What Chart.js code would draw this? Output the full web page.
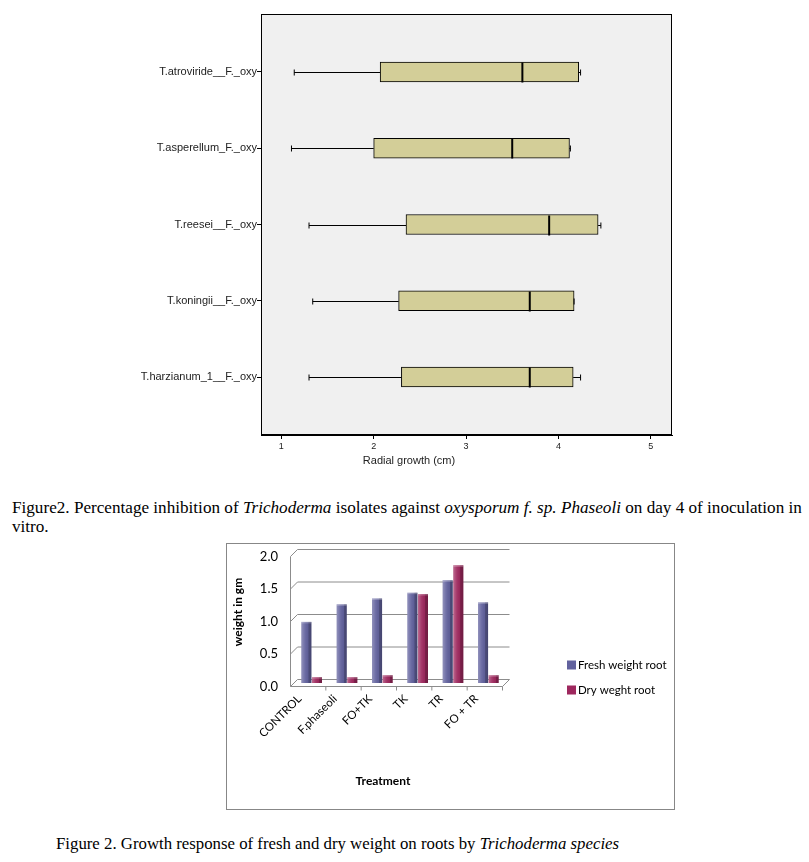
<!DOCTYPE html>
<html>
<head>
<meta charset="utf-8">
<script src="https://cdn.jsdelivr.net/npm/chart.js@4.4.0/dist/chart.umd.min.js"></script>
<style>
    body { margin: 0; background: #fff; width: 809px; height: 862px; position: relative; overflow: hidden; }
    #wrap1 { position: absolute; left: 0; top: 0; width: 809px; height: 472px; }
    #frame2 { position: absolute; left: 226px; top: 543px; width: 449px; height: 267px; box-sizing: border-box; border: 1px solid #878787; }
    #wrap2 { position: absolute; left: 0; top: 0; width: 447px; height: 265px; }
    .cap { position: absolute; font-family: 'Liberation Serif', 'Times New Roman', serif; font-size: 17px; color: #000; white-space: nowrap; line-height: 19px; }
</style>
</head>
<body>
<div id="wrap1"><canvas id="boxChart"></canvas></div>
<div class="cap" style="left:12px; top:498px; font-size:17.15px;">Figure2. Percentage inhibition of <i>Trichoderma</i> isolates against <i>oxysporum f. sp. Phaseoli</i> on day 4 of inoculation in<br>vitro.</div>
<div id="frame2"><div id="wrap2"><canvas id="weightChart"></canvas></div></div>
<div class="cap" style="left:56px; top:834px; font-size:16.8px;">Figure 2. Growth response of fresh and dry weight on roots by <i>Trichoderma species</i></div>
<script>
// Box plot data (radial growth, cm)
const isolates = ['T.atroviride__F._oxy', 'T.asperellum_F._oxy', 'T.reesei__F._oxy', 'T.koningii__F._oxy', 'T.harzianum_1__F._oxy'];
const growthMin = [1.14, 1.11, 1.30, 1.34, 1.30];
const growthQ1 = [2.07, 2.00, 2.35, 2.27, 2.30];
const growthMedian = [3.61, 3.50, 3.90, 3.69, 3.69];
const growthQ3 = [4.22, 4.12, 4.43, 4.17, 4.16];
const growthMax = [4.24, 4.13, 4.46, 4.17, 4.24];
const radialTicks = [1, 2, 3, 4, 5];

// Root weight data (gm)
const treatments = ['CONTROL', 'F.phaseoli', 'FO+TK', 'TK', 'TR', 'FO + TR'];
const freshWeightRoot = [0.94, 1.21, 1.30, 1.39, 1.58, 1.24];
const dryWeightRoot = [0.09, 0.09, 0.12, 1.37, 1.81, 0.12];
const weightTicks = [0, 0.5, 1.0, 1.5, 2.0];

Chart.defaults.animation = false;

// ---------- Box plot ----------
const boxPlugin = {
    id: 'boxParts',
    beforeDraw(chart) {
        const { ctx, chartArea: a } = chart;
        ctx.save();
        ctx.fillStyle = '#f0f0f0';
        ctx.fillRect(a.left, a.top, a.right - a.left, a.bottom - a.top);
        ctx.restore();
    },
    afterDatasetsDraw(chart) {
        const { ctx, chartArea: a } = chart;
        const xs = chart.scales.x, ys = chart.scales.y;
        ctx.save();
        ctx.strokeStyle = '#000';
        isolates.forEach((_, i) => {
            const y = Math.round(ys.getPixelForValue(i)) + 0.5;
            const xMin = xs.getPixelForValue(growthMin[i]);
            const xQ1 = xs.getPixelForValue(growthQ1[i]);
            const xQ3 = xs.getPixelForValue(growthQ3[i]);
            const xMax = xs.getPixelForValue(growthMax[i]);
            const xMed = xs.getPixelForValue(growthMedian[i]);
            ctx.lineWidth = 1;
            ctx.beginPath();
            ctx.moveTo(xMin, y); ctx.lineTo(xQ1, y);
            ctx.moveTo(xQ3, y); ctx.lineTo(xMax, y);
            ctx.moveTo(xMin, y - 3); ctx.lineTo(xMin, y + 3);
            ctx.moveTo(xMax, y - 3); ctx.lineTo(xMax, y + 3);
            ctx.stroke();
            ctx.lineWidth = 2;
            ctx.beginPath();
            ctx.moveTo(xMed, y - 10); ctx.lineTo(xMed, y + 10);
            ctx.stroke();
        });
        ctx.lineWidth = 1;
        ctx.strokeRect(a.left + 0.5, a.top + 0.5, a.right - a.left - 1, a.bottom - a.top - 1);
        // axis title
        ctx.fillStyle = '#222';
        ctx.font = '11px "Liberation Sans", Arial, sans-serif';
        ctx.textAlign = 'center';
        ctx.textBaseline = 'middle';
        ctx.fillText('Radial growth (cm)', 409, 461);
        ctx.restore();
    }
};

new Chart(document.getElementById('boxChart'), {
    type: 'bar',
    data: {
        datasets: [{
            label: 'Radial growth',
            data: isolates.map((_, i) => ({ y: i, x: [growthQ1[i], growthQ3[i]] })),
            backgroundColor: '#d3ce98',
            borderColor: '#000',
            borderWidth: 1,
            borderSkipped: false,
            barThickness: 20
        }]
    },
    options: {
        indexAxis: 'y',
        responsive: true,
        maintainAspectRatio: false,
        layout: { padding: { top: 14, right: 137, left: 0, bottom: 0 } },
        plugins: { legend: { display: false }, tooltip: { enabled: false } },
        scales: {
            x: {
                type: 'linear',
                min: 0.78,
                max: 5.23,
                afterFit(s) { s.height = 37; s.paddingLeft = 0; s.paddingRight = 0; },
                afterBuildTicks(s) { s.ticks = radialTicks.map(v => ({ value: v })); },
                grid: { display: true, drawOnChartArea: false, drawTicks: true, tickLength: 4, color: '#000' },
                border: { display: true, color: '#000' },
                ticks: { color: '#222', padding: 2, font: { family: '"Liberation Sans", Arial, sans-serif', size: 9 } }
            },
            y: {
                type: 'linear',
                reverse: true,
                offset: false,
                min: -0.76,
                max: 4.76,
                afterFit(s) { s.width = 261; s.paddingTop = 0; s.paddingBottom = 0; },
                afterBuildTicks(s) { s.ticks = isolates.map((_, i) => ({ value: i })); },
                grid: { display: true, offset: false, drawOnChartArea: false, drawTicks: true, tickLength: 4, color: '#000' },
                border: { display: true, color: '#000' },
                ticks: {
                    color: '#222',
                    padding: 0,
                    font: { family: '"Liberation Sans", Arial, sans-serif', size: 11 },
                    callback: v => isolates[v]
                }
            }
        }
    },
    plugins: [boxPlugin]
});

// ---------- Root weight bar chart ----------
const DEPTH = 3.5;
const weightPlugin = {
    id: 'pseudo3d',
    beforeDatasetsDraw(chart) {
        const { ctx } = chart;
        const xs = chart.scales.x, ys = chart.scales.y;
        const l = xs.left, r = xs.right, b = ys.bottom, t = ys.top;
        ctx.save();
        ctx.strokeStyle = '#8c8c8c';
        ctx.lineWidth = 1;
        ctx.beginPath();
        weightTicks.forEach(v => {
            const y = ys.getPixelForValue(v);
            ctx.moveTo(l + DEPTH, y - DEPTH); ctx.lineTo(r + DEPTH, y - DEPTH);
            ctx.moveTo(l - DEPTH, y + DEPTH); ctx.lineTo(l + DEPTH, y - DEPTH);
        });
        ctx.moveTo(l - DEPTH, t + DEPTH); ctx.lineTo(l - DEPTH, b + DEPTH);
        ctx.moveTo(l - DEPTH, b + DEPTH); ctx.lineTo(r - DEPTH, b + DEPTH);
        ctx.lineTo(r + DEPTH, b - DEPTH);
        for (let i = 1; i < treatments.length; i++) {
            const x = l + i * (r - l) / treatments.length - DEPTH;
            ctx.moveTo(x, b + DEPTH); ctx.lineTo(x, b + DEPTH + 4);
        }
        ctx.moveTo(r - DEPTH, b + DEPTH); ctx.lineTo(r - DEPTH, b + DEPTH + 4);
        ctx.stroke();
        ctx.restore();
    },
    afterDatasetsDraw(chart) {
        const { ctx } = chart;
        ctx.save();
        chart.data.datasets.forEach((ds, di) => {
            chart.getDatasetMeta(di).data.forEach(bar => {
                const { x, y, base, width } = bar.getProps(['x', 'y', 'base', 'width'], true);
                const left = x - width / 2;
                const g = ctx.createLinearGradient(left, 0, left + width, 0);
                g.addColorStop(0, 'rgba(255,255,255,0.30)');
                g.addColorStop(0.35, 'rgba(255,255,255,0.08)');
                g.addColorStop(0.7, 'rgba(0,0,0,0.05)');
                g.addColorStop(0.72, 'rgba(0,0,0,0.22)');
                g.addColorStop(1, 'rgba(0,0,0,0.30)');
                ctx.fillStyle = g;
                ctx.fillRect(left, y, width, base - y);
                ctx.fillStyle = 'rgba(255,255,255,0.25)';
                ctx.fillRect(left, y, width, 1.5);
            });
        });
        // legend
        ctx.font = '11.5px Lato, "Open Sans", sans-serif';
        ctx.textBaseline = 'middle';
        ctx.textAlign = 'left';
        chart.data.datasets.forEach((ds, di) => {
            const cy = 121 + di * 25;
            ctx.fillStyle = ds.backgroundColor;
            ctx.fillRect(340, cy - 4.5, 9, 9);
            ctx.fillStyle = '#000';
            ctx.fillText(ds.label, 351, cy);
        });
        // axis titles
        ctx.font = 'bold 12px Lato, "Open Sans", sans-serif';
        ctx.textAlign = 'center';
        ctx.fillText('Treatment', 156, 237);
        ctx.translate(11, 68);
        ctx.rotate(-Math.PI / 2);
        ctx.fillText('weight in gm', 0, 0);
        ctx.restore();
    }
};

new Chart(document.getElementById('weightChart'), {
    type: 'bar',
    data: {
        labels: treatments,
        datasets: [
            { label: 'Fresh weight root', data: freshWeightRoot, backgroundColor: '#62629e' },
            { label: 'Dry weght root', data: dryWeightRoot, backgroundColor: '#9e285e' }
        ]
    },
    options: {
        responsive: true,
        maintainAspectRatio: false,
        layout: { padding: { top: 9, right: 168, left: 0, bottom: 0 } },
        datasets: { bar: { categoryPercentage: 0.6, barPercentage: 0.95 } },
        plugins: { legend: { display: false }, tooltip: { enabled: false } },
        scales: {
            x: {
                afterFit(s) { s.height = 126; s.paddingLeft = 0; s.paddingRight = 0; },
                grid: { display: false },
                border: { display: false },
                ticks: {
                    color: '#000',
                    minRotation: 45,
                    maxRotation: 45,
                    padding: 1,
                    labelOffset: -12,
                    font: { family: 'Lato, "Open Sans", sans-serif', size: 11.5 }
                }
            },
            y: {
                min: 0,
                max: 2,
                afterFit(s) { s.width = 67; s.paddingTop = 0; s.paddingBottom = 0; },
                afterBuildTicks(s) { s.ticks = weightTicks.map(v => ({ value: v })); },
                grid: { display: false },
                border: { display: false },
                ticks: {
                    color: '#000',
                    padding: 8,
                    labelOffset: 3.5,
                    font: { family: 'Lato, "Open Sans", sans-serif', size: 13 },
                    callback: v => v.toFixed(1)
                }
            }
        }
    },
    plugins: [weightPlugin]
});
</script>
</body>
</html>
